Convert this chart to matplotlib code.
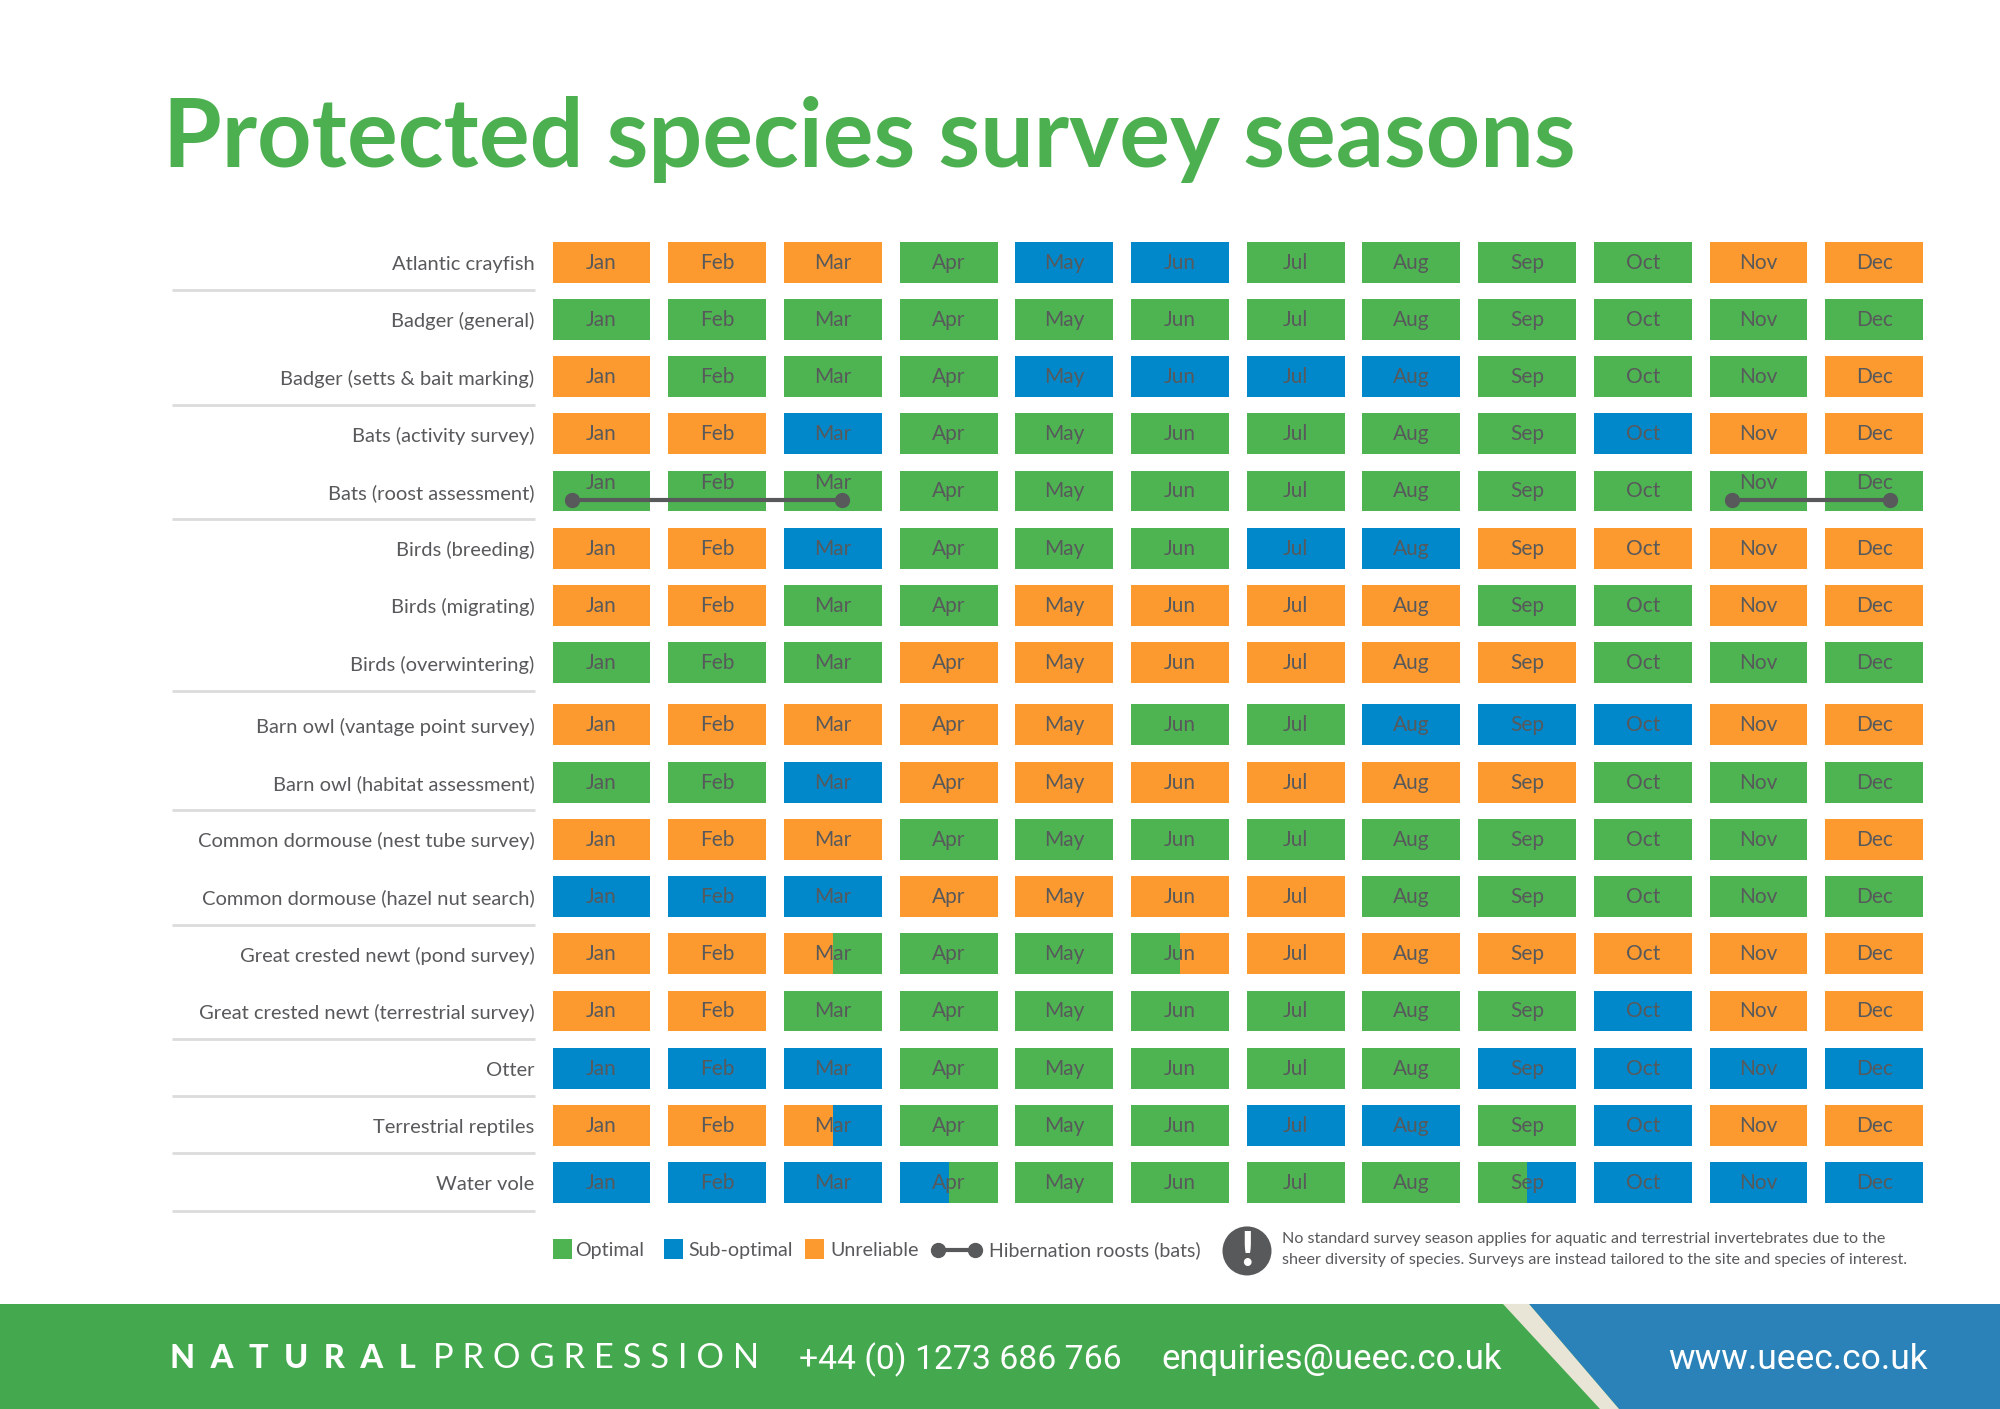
import numpy as np
import matplotlib
matplotlib.use('Agg')
import matplotlib.pyplot as plt
from matplotlib.patches import Polygon, Circle, Rectangle

plt.rcParams['font.family'] = ['Lato', 'DejaVu Sans']

months = ['Jan', 'Feb', 'Mar', 'Apr', 'May', 'Jun', 'Jul', 'Aug', 'Sep', 'Oct', 'Nov', 'Dec']
species = ['Atlantic crayfish', 'Badger (general)', 'Badger (setts & bait marking)',
           'Bats (activity survey)', 'Bats (roost assessment)', 'Birds (breeding)',
           'Birds (migrating)', 'Birds (overwintering)', 'Barn owl (vantage point survey)',
           'Barn owl (habitat assessment)', 'Common dormouse (nest tube survey)',
           'Common dormouse (hazel nut search)', 'Great crested newt (pond survey)',
           'Great crested newt (terrestrial survey)', 'Otter', 'Terrestrial reptiles', 'Water vole']

# U unreliable, O optimal, S sub-optimal, two letters = month split in half
seasons = [
    'U U U O S S O O O O U U',
    'O O O O O O O O O O O O',
    'U O O O S S S S O O O U',
    'U U S O O O O O O S U U',
    'O O O O O O O O O O O O',
    'U U S O O O S S U U U U',
    'U U O O U U U U O O U U',
    'O O O U U U U U U O O O',
    'U U U U U O O S S S U U',
    'O O S U U U U U U O O O',
    'U U U O O O O O O O O U',
    'S S S U U U U O O O O O',
    'U U UO O O OU U U U U U U',
    'U U O O O O O O O S U U',
    'S S S O O O O O S S S S',
    'U U US O O O S S O S U U',
    'S S S SO O O O O OS S S S',
]
# rows with a rule underneath
rule_rows = [0, 2, 4, 7, 9, 11, 13, 14, 15, 16]
# hibernation roosts, in month positions on the bats (roost) row
hibernation_spans = [(-0.255, 2.08), (9.77, 11.14)]
hibernation_row = 4
raised_months = [0, 1, 2, 10, 11]

legend_names = ['Optimal', 'Sub-optimal', 'Unreliable']

GREEN = '#4eb452'
BLUE = '#0088cb'
ORANGE = '#fd9a2f'
GREY = '#58595b'
colours = {'O': GREEN, 'S': BLUE, 'U': ORANGE}

W, H = 2000, 1409
fig = plt.figure(figsize=(W / 100, (H + 0.5) / 100), dpi=100, facecolor='white')

# page layer, in pixels
page = fig.add_axes([0, 0, 1, 1])
page.set_xlim(0, W)
page.set_ylim(H, 0)
page.axis('off')

page.text(163, 167, 'Protected species survey seasons', fontsize=68.4, color='#4cb050',
          weight='bold', va='baseline', ha='left')

# footer
page.add_patch(Rectangle((0, 1304), W, 105, color='#44a84f', lw=0))
page.add_patch(Polygon([[1529, 1304], [W, 1304], [W, H], [1619, H]], color='#2a82b8', lw=0))
page.add_patch(Polygon([[1503, 1304], [1529, 1304], [1619, H], [1600, H]], color='#e9e5d6', lw=0))
page.text(170, 1368, 'N  A  T  U  R  A  L', fontsize=23.4, color='white', weight='black', va='baseline')
page.text(433, 1368, 'P R O G R E S S I O N', fontsize=24.8, color='white', va='baseline')
page.text(799, 1369, '+44 (0) 1273 686 766', fontsize=24.3, color='white', family='Roboto', va='baseline')
page.text(1161, 1369, 'enquiries@ueec.co.uk', fontsize=25, color='white', family='Roboto', va='baseline')
page.text(1668, 1369, 'www.ueec.co.uk', fontsize=25.5, color='white', family='Roboto', va='baseline')

# legend
for x0, x1, name, col in zip([553, 663.5, 805], [575, 688, 830.5], legend_names, [GREEN, BLUE, ORANGE]):
    page.add_patch(Rectangle((x0, 1239), 19, 20, color=col, lw=0))
    page.text(x1, 1250, name, fontsize=14.1, color=GREY, va='center')
page.plot([938, 975], [1250, 1250], color=GREY, lw=3, solid_capstyle='butt')
page.plot([938, 975], [1250, 1250], 'o', color=GREY, ms=10)
page.text(989, 1250, 'Hibernation roosts (bats)', fontsize=14, color=GREY, va='center')
page.add_patch(Circle((1247, 1251), 24.5, color=GREY, lw=0))
page.text(1247, 1252, '!', fontsize=34, color='white', weight='black', ha='center', va='center')
page.text(1282, 1239, 'No standard survey season applies for aquatic and terrestrial invertebrates due to the',
          fontsize=11.6, color=GREY, va='center')
page.text(1282, 1260, 'sheer diversity of species. Surveys are instead tailored to the site and species of interest.',
          fontsize=11.6, color=GREY, va='center')

# chart layer: x is month index, y is row index
row_y = np.arange(len(species)) + 0.0875 * (np.arange(len(species)) >= 8)
x_left, x_right = 543.65, 1932.05
y_top, y_bottom = 262.5 - 0.5 * 57.2, 262.5 + 16.6 * 57.2
ax = fig.add_axes([x_left / W, 1 - y_bottom / H, (x_right - x_left) / W, (y_bottom - y_top) / H])
ax.patch.set_alpha(0)
ax.set_xlim(-0.5, 11.5)
ax.set_ylim(16.6, -0.5)
for s in ax.spines.values():
    s.set_visible(False)
ax.set_xticks([])
ax.set_yticks(row_y)
ax.set_yticklabels(species, fontsize=14.5, color=GREY)
ax.tick_params(axis='y', length=0, pad=6.5)

bar_w = 0.847
bar_h = 0.715
for r, line in enumerate(seasons):
    for m, code in enumerate(line.split()):
        if len(code) == 1:
            ax.barh(row_y[r], bar_w, bar_h, left=m - bar_w / 2, color=colours[code], lw=0)
        else:
            ax.barh(row_y[r], bar_w / 2, bar_h, left=m - bar_w / 2, color=colours[code[0]], lw=0)
            ax.barh(row_y[r], bar_w / 2, bar_h, left=m, color=colours[code[1]], lw=0)
        dy = -0.14 if (r == hibernation_row and m in raised_months) else 0
        ax.text(m, row_y[r] + dy, months[m], fontsize=15, color=GREY, ha='center', va='center')

for a, b in hibernation_spans:
    ax.plot([a, b], [hibernation_row + 0.16] * 2, color=GREY, lw=3, solid_capstyle='butt')
    ax.plot([a, b], [hibernation_row + 0.16] * 2, 'o', color=GREY, ms=10)

trans = ax.get_yaxis_transform()
for r in rule_rows:
    ax.plot([-0.268, -0.0063], [row_y[r] + 0.49] * 2, transform=trans, color='#dcdcdc', lw=2, clip_on=False,
            solid_capstyle='butt')

fig.savefig('out.png', dpi=100)
